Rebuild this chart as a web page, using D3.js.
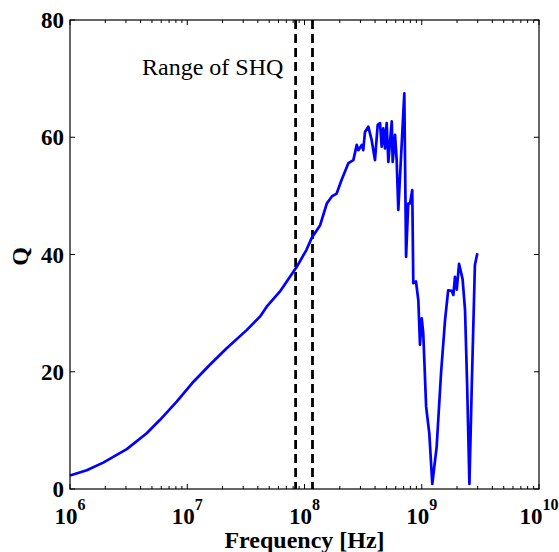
<!DOCTYPE html>
<html>
<head>
<meta charset="utf-8">
<script src="https://cdn.jsdelivr.net/npm/d3@7"></script>
<style>
  body { margin: 0; background: #fff; }
  svg { display: block; }
</style>
</head>
<body>
<div id="viz"></div>
<script>
// frequency in Hz and quality factor Q
const freqHz = [
  1.00e6, 1.39e6, 1.92e6, 3.05e6, 4.51e6, 5.86e6, 8.13e6, 1.13e7, 1.56e7, 2.17e7,
  3.21e7, 4.17e7, 4.76e7, 6.18e7, 7.52e7, 8.59e7, 1.04e8, 1.15e8, 1.36e8, 1.55e8,
  1.71e8, 1.88e8, 2.07e8, 2.37e8, 2.61e8, 2.79e8, 2.88e8, 3.08e8, 3.17e8, 3.28e8,
  3.50e8, 3.74e8, 3.99e8, 4.21e8, 4.41e8, 4.55e8, 4.70e8, 4.86e8, 5.02e8, 5.19e8,
  5.55e8, 5.65e8, 5.92e8, 6.11e8, 6.31e8, 7.10e8, 7.35e8, 7.67e8, 7.94e8, 8.30e8,
  8.47e8, 8.93e8, 9.35e8, 9.66e8, 1.00e9, 1.03e9, 1.09e9, 1.16e9, 1.23e9, 1.34e9,
  1.46e9, 1.58e9, 1.68e9, 1.80e9, 1.86e9, 1.92e9, 1.99e9, 2.08e9, 2.23e9, 2.34e9,
  2.44e9, 2.55e9, 2.67e9, 2.84e9, 2.98e9
];
const qValues = [
  2.3, 3.2, 4.5, 6.8, 9.5, 11.8, 14.9, 18.3, 21.2, 24.0,
  27.1, 29.4, 31.1, 33.7, 36.2, 37.9, 40.8, 42.8, 45.0, 48.7,
  49.9, 50.4, 52.7, 55.6, 56.1, 58.7, 57.8, 58.7, 57.8, 60.9,
  61.8, 59.5, 56.1, 62.1, 62.4, 58.4, 61.5, 58.1, 62.4, 55.8,
  62.7, 55.8, 60.4, 56.1, 47.6, 67.5, 39.6, 48.7, 48.7, 51.0,
  35.1, 35.4, 32.2, 24.6, 29.1, 26.6, 14.0, 9.5, 0.85, 7.2,
  19.7, 28.8, 33.9, 33.8, 33.1, 36.2, 34.0, 38.4, 35.8, 30.5,
  17.5, 0.85, 17.5, 38.2, 40.2
];

// bounds of the SHQ range (dashed lines)
const shqRange = [8.4e7, 1.17e8];
const shqLabel = 'Range of SHQ';

const xDomain = [1e6, 1e10];
const xExponents = [6, 7, 8, 9, 10];
const yDomain = [0, 80];
const yTicks = [0, 20, 40, 60, 80];
const xTitle = 'Frequency [Hz]';
const yTitle = 'Q';

let width = 559;
let height = 552;
let margin = { top: 20, right: 20, bottom: 63, left: 70 };
let innerW = width - margin.left - margin.right;
let innerH = height - margin.top - margin.bottom;

const font = '"Liberation Serif", "Times New Roman", Times, serif';

let x = d3.scaleLog()
  .domain(xDomain)
  .range([0, innerW]);

let y = d3.scaleLinear()
  .domain(yDomain)
  .range([innerH, 0]);

const svg = d3.select('#viz').append('svg')
  .attr('width', width)
  .attr('height', height)
  .style('font-family', font);

const g = svg.append('g')
  .attr('transform', `translate(${margin.left},${margin.top})`);

// minor + major ticks along x, drawn inward on bottom and top
let minorX = [];
for (let e = 6; e < 10; e++) {
  for (let m = 2; m <= 9; m++) minorX.push(m * Math.pow(10, e));
}
let majorX = xExponents.map(e => Math.pow(10, e));

const tickG = g.append('g')
  .attr('stroke', '#000')
  .attr('stroke-width', 1);

tickG.selectAll('.minor-b')
  .data(minorX)
  .join('line')
  .attr('class', 'minor-b')
  .attr('x1', d => x(d)).attr('x2', d => x(d))
  .attr('y1', innerH).attr('y2', innerH - 3);

tickG.selectAll('.minor-t')
  .data(minorX)
  .join('line')
  .attr('class', 'minor-t')
  .attr('x1', d => x(d)).attr('x2', d => x(d))
  .attr('y1', 0).attr('y2', 3);

tickG.selectAll('.major-b')
  .data(majorX)
  .join('line')
  .attr('class', 'major-b')
  .attr('x1', d => x(d)).attr('x2', d => x(d))
  .attr('y1', innerH).attr('y2', innerH - 5);

tickG.selectAll('.major-t')
  .data(majorX)
  .join('line')
  .attr('class', 'major-t')
  .attr('x1', d => x(d)).attr('x2', d => x(d))
  .attr('y1', 0).attr('y2', 5);

tickG.selectAll('.ytick-l')
  .data(yTicks)
  .join('line')
  .attr('class', 'ytick-l')
  .attr('x1', 0).attr('x2', 5)
  .attr('y1', d => y(d)).attr('y2', d => y(d));

tickG.selectAll('.ytick-r')
  .data(yTicks)
  .join('line')
  .attr('class', 'ytick-r')
  .attr('x1', innerW).attr('x2', innerW - 5)
  .attr('y1', d => y(d)).attr('y2', d => y(d));

// dashed SHQ range lines
g.append('g')
  .selectAll('line')
  .data(shqRange)
  .join('line')
  .attr('x1', d => x(d)).attr('x2', d => x(d))
  .attr('y1', 0).attr('y2', innerH)
  .attr('stroke', '#000')
  .attr('stroke-width', 2.8)
  .attr('stroke-dasharray', '9,5');

// the Q curve
const line = d3.line()
  .x(d => x(d[0]))
  .y(d => y(d[1]));

g.append('path')
  .datum(freqHz.map((f, i) => [f, qValues[i]]))
  .attr('fill', 'none')
  .attr('stroke', '#0000ff')
  .attr('stroke-width', 2.7)
  .attr('stroke-linejoin', 'round')
  .attr('d', line);

// frame
g.append('rect')
  .attr('x', 0).attr('y', 0)
  .attr('width', innerW).attr('height', innerH)
  .attr('fill', 'none')
  .attr('stroke', '#000')
  .attr('stroke-width', 1.2);

// y tick labels
g.append('g')
  .selectAll('text')
  .data(yTicks)
  .join('text')
  .attr('x', -6)
  .attr('y', d => y(d))
  .attr('dy', '0.35em')
  .attr('text-anchor', 'end')
  .style('font-size', '23px')
  .style('font-weight', 'bold')
  .text(d => d);

// x tick labels: 10^n
const xl = g.append('g')
  .selectAll('text')
  .data(xExponents)
  .join('text')
  .attr('x', d => x(Math.pow(10, d)))
  .attr('y', innerH + 35)
  .attr('text-anchor', 'middle')
  .style('font-size', '23px')
  .style('font-weight', 'bold');

xl.append('tspan').text('10');
xl.append('tspan')
  .attr('dy', -14)
  .style('font-size', '16px')
  .text(d => d);

// axis titles
g.append('text')
  .attr('x', innerW / 2)
  .attr('y', innerH + 59)
  .attr('text-anchor', 'middle')
  .style('font-size', '24px')
  .style('font-weight', 'bold')
  .text(xTitle);

g.append('text')
  .attr('transform', `translate(${-42},${innerH / 2 + 2}) rotate(-90)`)
  .attr('text-anchor', 'middle')
  .style('font-size', '24px')
  .style('font-weight', 'bold')
  .text(yTitle);

// annotation
g.append('text')
  .attr('x', 72)
  .attr('y', 55)
  .style('font-size', '24px')
  .text(shqLabel);
</script>
</body>
</html>
